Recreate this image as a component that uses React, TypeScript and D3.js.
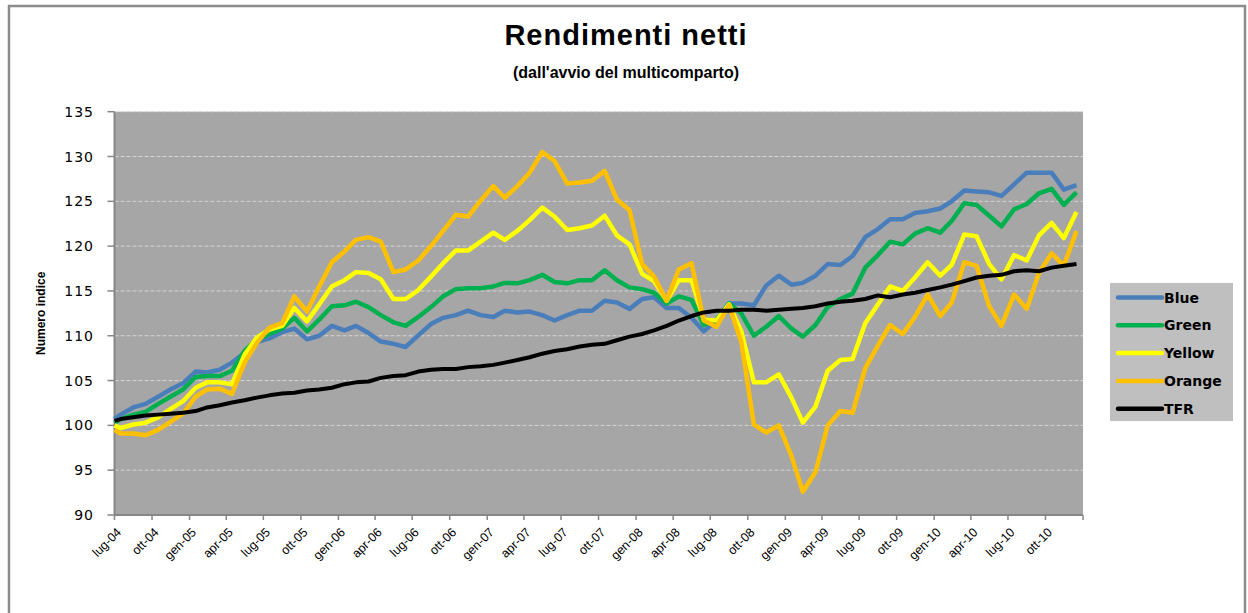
import * as d3 from "d3";

// first point is the fund start date, then month-end values
const startDay = new Date(2004, 6, 16);
const monthEnds = d3.range(78).map((i) => new Date(2004, 7 + i, 0));
const dates = [startDay, ...monthEnds];

const tickLabels = [
  "lug-04", "ott-04", "gen-05", "apr-05", "lug-05", "ott-05", "gen-06", "apr-06",
  "lug-06", "ott-06", "gen-07", "apr-07", "lug-07", "ott-07", "gen-08", "apr-08",
  "lug-08", "ott-08", "gen-09", "apr-09", "lug-09", "ott-09", "gen-10", "apr-10",
  "lug-10", "ott-10",
];
const yTicks = [90, 95, 100, 105, 110, 115, 120, 125, 130, 135];

const blue = [
  100.7, 101.2, 102.0, 102.4, 103.2, 104.0, 104.7, 106.0, 105.9, 106.2,
  107.0, 108.1, 109.3, 109.7, 110.4, 110.8, 109.6, 110.0, 111.1, 110.6,
  111.1, 110.3, 109.35, 109.1, 108.75, 110.05, 111.3, 112.0, 112.3, 112.8,
  112.3, 112.1, 112.8, 112.6, 112.7, 112.3, 111.7, 112.3, 112.8, 112.8,
  113.9, 113.7, 113.0, 114.1, 114.3, 113.1, 113.1, 112.0, 110.5, 111.7,
  113.6, 113.6, 113.4, 115.6, 116.7, 115.7, 115.9, 116.7, 118.0, 117.9,
  118.9, 121.0, 121.9, 123.0, 123.0, 123.7, 123.9, 124.2, 125.0, 126.2,
  126.1, 126.0, 125.6, 126.9, 128.2, 128.2, 128.2, 126.3, 126.8,
];
const green = [
  100.3, 100.7, 101.2, 101.5, 102.4, 103.2, 104.0, 105.4, 105.5, 105.5,
  106.1, 108.3, 109.6, 110.2, 110.8, 112.0, 110.5, 111.8, 113.3, 113.4,
  113.8, 113.2, 112.3, 111.5, 111.1, 112.1, 113.2, 114.4, 115.2, 115.3,
  115.3, 115.5, 115.9, 115.85, 116.2, 116.8, 116.0, 115.85, 116.2, 116.2,
  117.3, 116.2, 115.4, 115.2, 114.8, 113.6, 114.4, 114.0, 111.2, 111.75,
  113.6, 112.5, 110.0, 111.0, 112.2, 110.8, 109.9, 111.2, 113.2, 114.1,
  114.7, 117.6, 119.0, 120.5, 120.2, 121.4, 122.0, 121.5, 122.8, 124.8,
  124.6, 123.4, 122.2, 124.1, 124.7, 125.9, 126.4, 124.6, 126.0,
];
const yellow = [
  100.0, 99.7, 100.1, 100.3, 100.9, 101.8, 102.7, 104.2, 104.8, 104.8,
  104.6, 107.9, 109.8, 110.7, 111.1, 113.1, 111.6, 113.5, 115.5, 116.2,
  117.1, 117.0, 116.3, 114.1, 114.1, 115.1, 116.6, 118.1, 119.5, 119.5,
  120.5, 121.5, 120.7, 121.7, 122.9, 124.3, 123.3, 121.8, 122.0, 122.3,
  123.4, 121.2, 120.2, 116.9, 116.1, 113.9, 116.2, 116.2, 111.8, 111.7,
  113.5, 110.5, 104.8, 104.8, 105.7, 103.1, 100.3, 102.1, 106.1, 107.3,
  107.4, 111.4, 113.5, 115.5, 115.0, 116.5, 118.2, 116.7, 117.9, 121.3,
  121.1, 118.0, 116.3, 119.0, 118.4, 121.2, 122.6, 120.9, 123.8,
];
const orange = [
  99.5, 99.1, 99.1, 98.9, 99.5, 100.4, 101.3, 103.2, 104.0, 104.1,
  103.5, 107.0, 109.2, 110.9, 111.4, 114.4, 112.7, 115.5, 118.2, 119.4,
  120.7, 121.0, 120.5, 117.1, 117.4, 118.4, 120.0, 121.7, 123.5, 123.3,
  125.1, 126.7, 125.4, 126.7, 128.2, 130.5, 129.5, 127.0, 127.1, 127.3,
  128.4, 125.2, 124.0, 118.0, 116.6, 113.9, 117.4, 118.1, 111.7, 111.0,
  113.4, 109.3, 100.1, 99.2, 100.0, 96.6, 92.6, 94.8, 100.0, 101.6,
  101.4, 106.4, 108.9, 111.2, 110.2, 112.1, 114.6, 112.2, 113.7, 118.2,
  117.8, 113.3, 111.1, 114.6, 113.0, 117.0, 119.2, 117.8, 121.7,
];
const tfr = [
  100.5, 100.7, 100.9, 101.1, 101.2, 101.3, 101.4, 101.6, 102.0, 102.25,
  102.55, 102.8, 103.1, 103.35, 103.55, 103.65, 103.9, 104.0, 104.2, 104.6,
  104.8, 104.9, 105.3, 105.5, 105.6, 106.0, 106.2, 106.3, 106.3, 106.5,
  106.6, 106.75, 107.0, 107.3, 107.6, 108.0, 108.3, 108.5, 108.8, 109.0,
  109.1, 109.5, 109.9, 110.2, 110.6, 111.1, 111.7, 112.2, 112.6, 112.8,
  112.8, 112.9, 112.9, 112.8, 112.9, 113.0, 113.1, 113.3, 113.6, 113.8,
  113.9, 114.1, 114.5, 114.3, 114.6, 114.8, 115.1, 115.4, 115.7, 116.1,
  116.5, 116.7, 116.8, 117.2, 117.3, 117.2, 117.6, 117.8, 118.0,
];

const series = [
  { name: "Blue", values: blue, color: "#4A7EBB" },
  { name: "Green", values: green, color: "#00B050" },
  { name: "Yellow", values: yellow, color: "#FFFF00" },
  { name: "Orange", values: orange, color: "#FFC000" },
  { name: "TFR", values: tfr, color: "#000000" },
];

const W = 1248,
  H = 613;
const left = 114.5,
  right = 1083,
  top = 111.7,
  bottom = 515;

export default function App() {
  const x = d3
    .scaleTime()
    .domain([startDay, d3.timeMonth.offset(startDay, 78)])
    .range([left, right]);
  const y = d3.scaleLinear().domain([90, 135]).range([bottom, top]);
  const tickDates = d3.range(27).map((i) => d3.timeMonth.offset(startDay, 3 * i));

  const line = d3
    .line<number>()
    .x((_, i) => x(dates[i]))
    .y((d) => y(d));

  return (
    <svg
      width={W}
      height={H}
      style={{ position: "absolute", left: 0, top: 0, background: "#fff" }}
      fontFamily="'Liberation Sans', Arial, sans-serif"
    >
      <rect x={9} y={6} width={1236} height={640} fill="#fff" stroke="#8c8c8c" strokeWidth={2.5} />

      <text x={626} y={45} textAnchor="middle" fontSize={29} fontWeight="bold" letterSpacing={1}>
        Rendimenti netti
      </text>
      <text x={626} y={78} textAnchor="middle" fontSize={16} fontWeight="bold">
        (dall'avvio del multicomparto)
      </text>

      <rect x={left} y={top} width={right - left} height={bottom - top} fill="#A6A6A6" />
      {yTicks.slice(1).map((t) => (
        <line
          key={t}
          x1={left}
          x2={right}
          y1={y(t)}
          y2={y(t)}
          stroke="#D4D4D4"
          strokeWidth={1}
          strokeDasharray="4,2"
        />
      ))}

      {/* y axis */}
      <line x1={left} x2={left} y1={top} y2={bottom} stroke="#868686" strokeWidth={2} />
      {yTicks.map((t) => (
        <g key={t}>
          <line x1={left - 7} x2={left} y1={y(t)} y2={y(t)} stroke="#868686" strokeWidth={1.5} />
          <text
            x={94}
            y={y(t)}
            dy="0.36em"
            textAnchor="end"
            fontSize={14}
            letterSpacing={1}
            fontFamily="'DejaVu Sans', Verdana, sans-serif"
          >
            {t}
          </text>
        </g>
      ))}
      <text
        transform={`translate(44.5,${(top + bottom) / 2}) rotate(-90)`}
        textAnchor="middle"
        fontSize={12}
        fontWeight="bold"
      >
        Numero indice
      </text>

      {/* x axis */}
      <line x1={left} x2={right} y1={bottom} y2={bottom} stroke="#868686" strokeWidth={2} />
      {tickDates.map((d, i) => (
        <g key={i}>
          <line x1={x(d)} x2={x(d)} y1={bottom} y2={bottom + 5} stroke="#868686" strokeWidth={1.5} />
          {tickLabels[i] && (
            <text
              transform={`translate(${x(d) + 7.5},533) rotate(-45)`}
              textAnchor="end"
              fontSize={12.5}
            >
              {tickLabels[i]}
            </text>
          )}
        </g>
      ))}

      {series.map((s) => (
        <path
          key={s.name}
          d={line(s.values) ?? ""}
          fill="none"
          stroke={s.color}
          strokeWidth={s.name === "TFR" ? 4 : 4.5}
          strokeLinejoin="round"
        />
      ))}

      {/* legend */}
      <rect x={1110} y={283} width={123} height={138} fill="#BFBFBF" />
      {series.map((s, i) => (
        <g key={s.name} transform={`translate(1118,${297.5 + i * 27.8})`}>
          <line x1={0} x2={44} y1={0} y2={0} stroke={s.color} strokeWidth={4.5} strokeLinecap="round" />
          <text
            x={46}
            dy="0.36em"
            fontSize={14}
            fontWeight="bold"
            fontFamily="'DejaVu Sans', Verdana, sans-serif"
          >
            {s.name}
          </text>
        </g>
      ))}
    </svg>
  );
}
